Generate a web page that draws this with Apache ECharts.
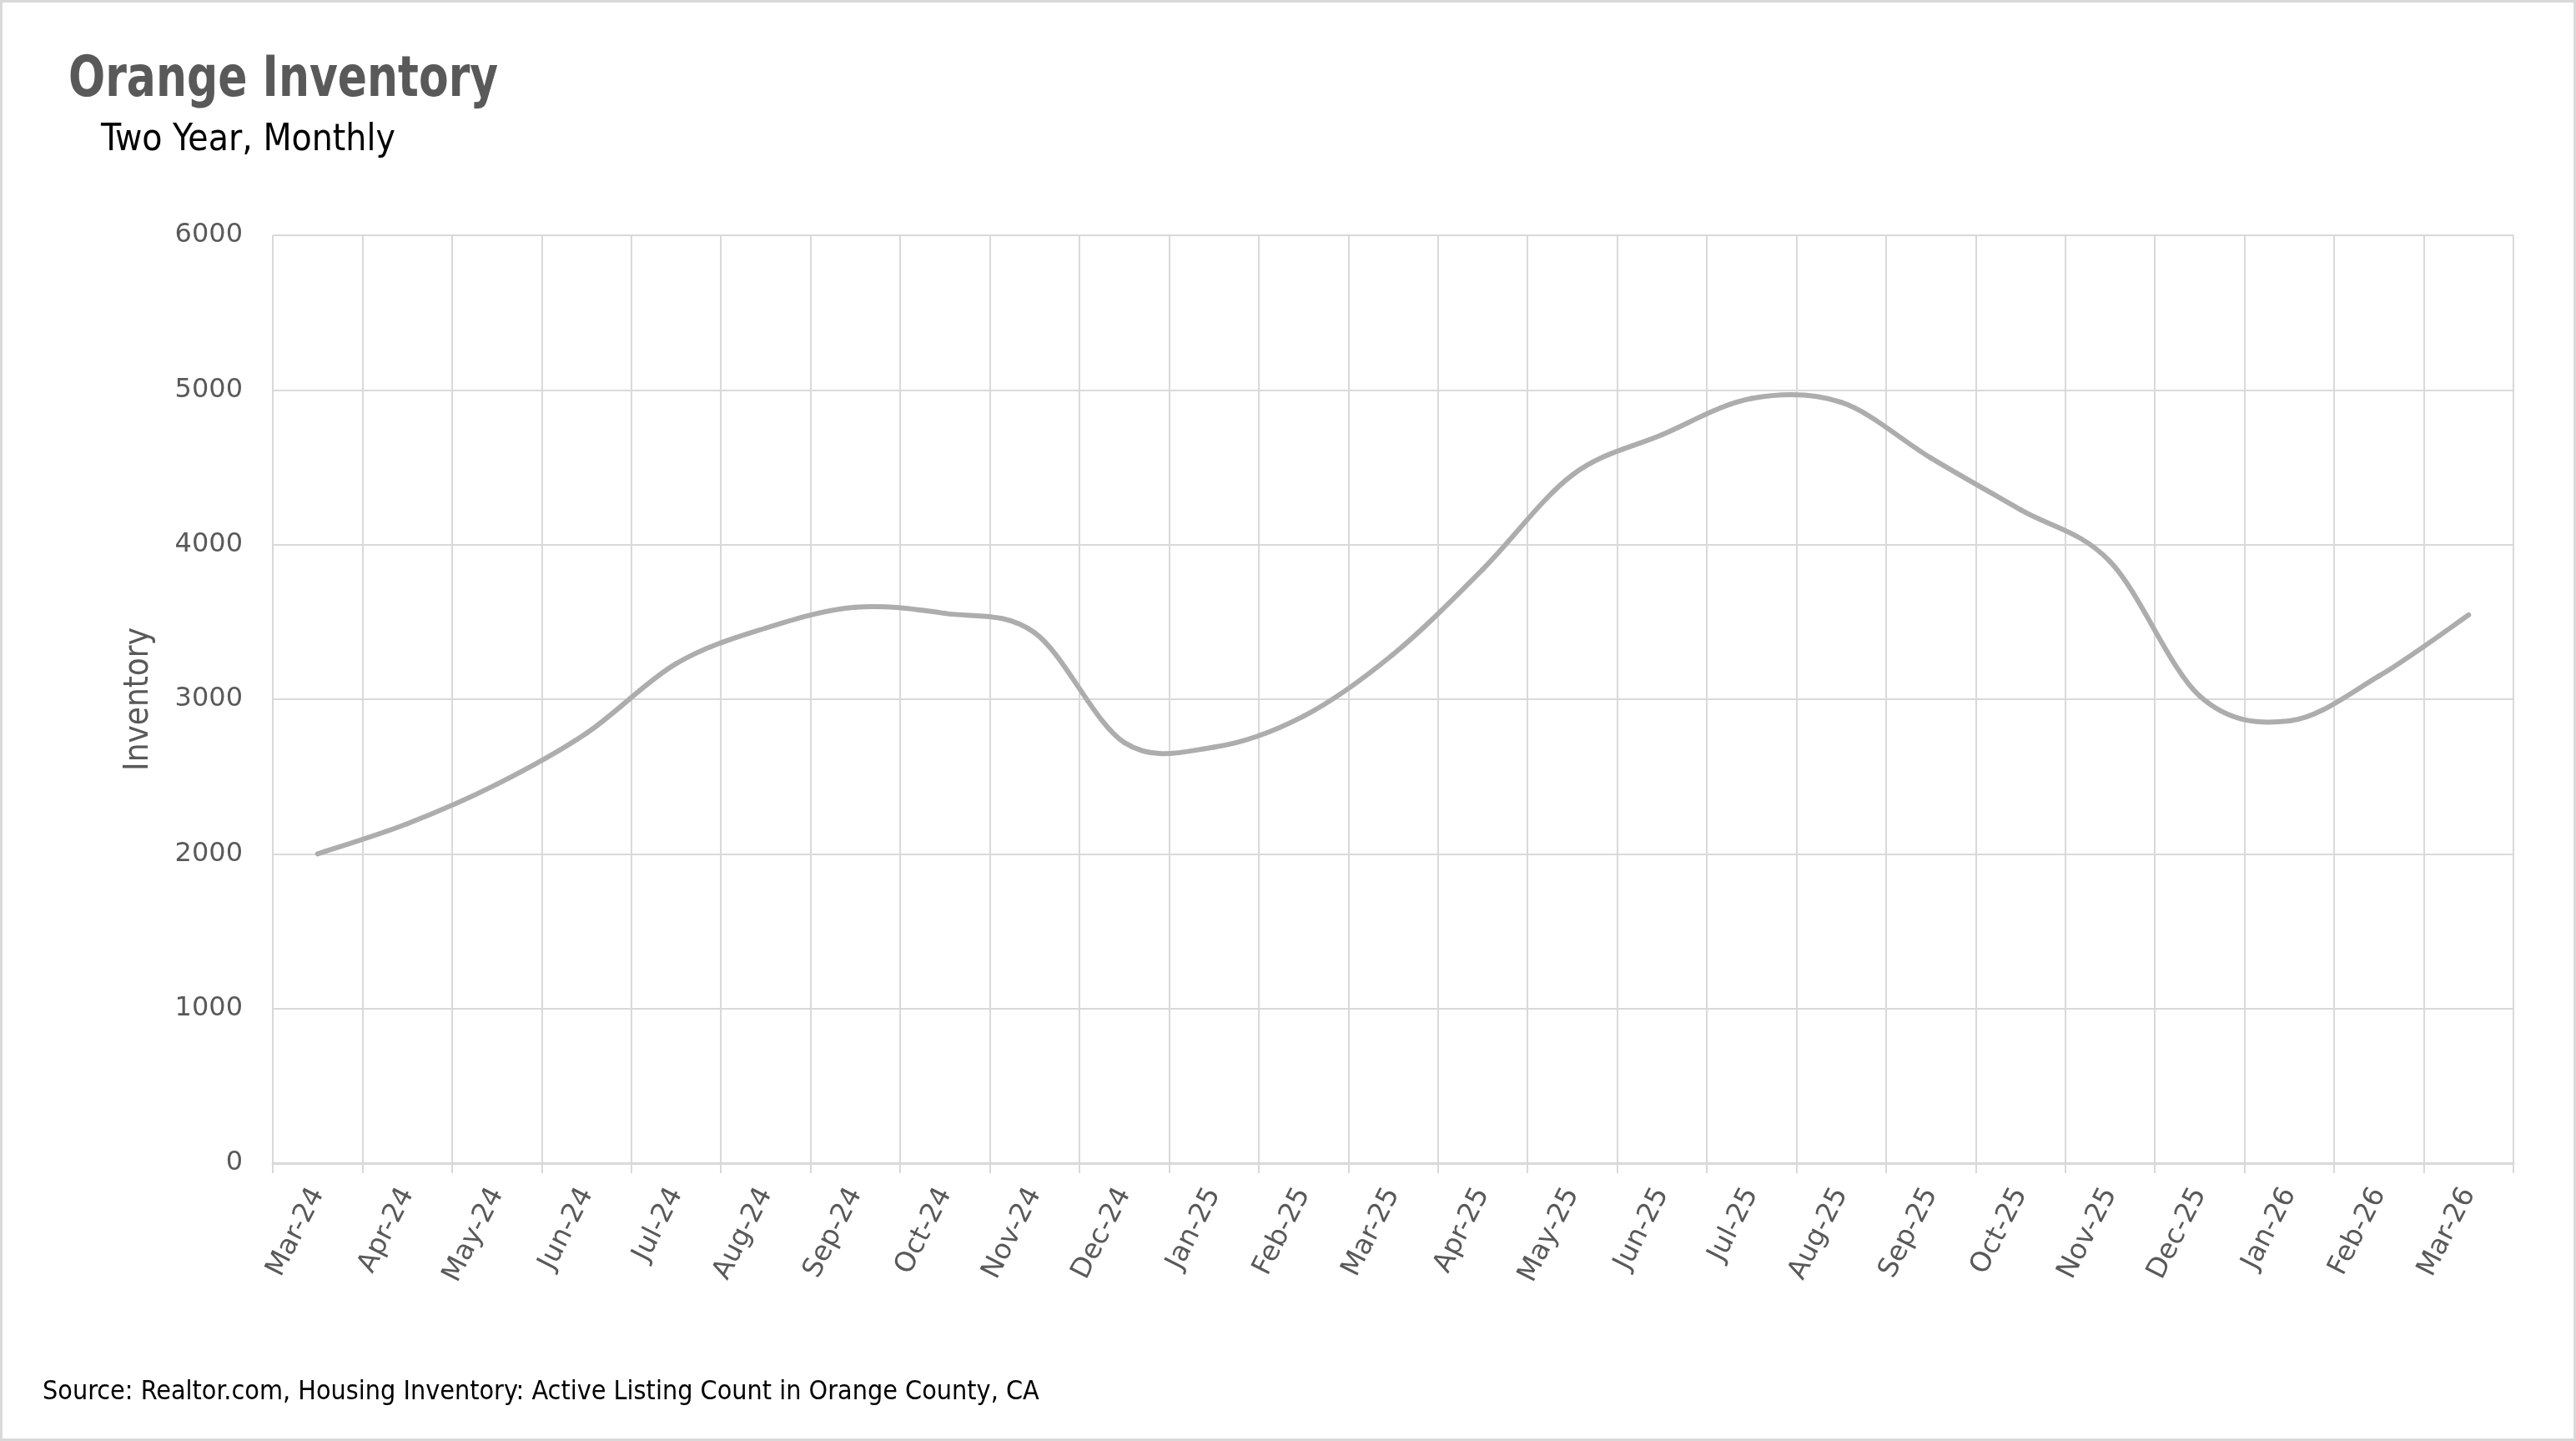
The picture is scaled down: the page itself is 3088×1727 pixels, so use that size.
<!DOCTYPE html>
<html>
<head>
<meta charset="utf-8">
<script src="https://cdn.jsdelivr.net/npm/echarts@6/dist/echarts.min.js"></script>
<style>
html,body{margin:0;padding:0;background:#fff;}
#chart{width:3088px;height:1727px;}
</style>
</head>
<body>
<div id="chart"></div>
<script>
const categories = ['Mar-24','Apr-24','May-24','Jun-24','Jul-24','Aug-24','Sep-24','Oct-24','Nov-24','Dec-24','Jan-25','Feb-25','Mar-25','Apr-25','May-25','Jun-25','Jul-25','Aug-25','Sep-25','Oct-25','Nov-25','Dec-25','Jan-26','Feb-26','Mar-26'];
const inventory = [2000,2195,2450,2780,3230,3460,3595,3555,3430,2720,2690,2890,3290,3840,4450,4710,4945,4920,4560,4225,3890,3020,2860,3150,3545];
const yTicks = {min:0, max:6000, interval:1000};
const titleText = 'Orange Inventory';
const subtitleText = 'Two Year, Monthly';
const yAxisName = 'Inventory';
const sourceText = 'Source: Realtor.com, Housing Inventory: Active Listing Count in Orange County, CA';

const narrow = "'Liberation Sans Narrow','DejaVu Sans Condensed','Roboto',sans-serif";
const wide = "'DejaVu Sans',sans-serif";

const chart = echarts.init(document.getElementById('chart'), null, {renderer:'canvas'});

// Smooth (Catmull-Rom style) curve through every data point, positioned with the axes' own scales
function renderCurve(params, api) {
  if (params.dataIndex !== 0) return null;
  const pts = inventory.map((v, i) => api.coord([i, v]));
  const n = pts.length;
  const children = [];
  for (let i = 0; i < n - 1; i++) {
    const p0 = pts[i - 1] || pts[i];
    const p1 = pts[i];
    const p2 = pts[i + 1];
    const p3 = pts[i + 2] || pts[i + 1];
    children.push({
      type: 'bezierCurve',
      shape: {
        x1: p1[0], y1: p1[1], x2: p2[0], y2: p2[1],
        cpx1: p1[0] + (p2[0] - p0[0]) / 6, cpy1: p1[1] + (p2[1] - p0[1]) / 6,
        cpx2: p2[0] - (p3[0] - p1[0]) / 6, cpy2: p2[1] - (p3[1] - p1[1]) / 6
      },
      style: {fill: null, stroke: '#adadad', lineWidth: 6, lineCap: 'round', lineJoin: 'round'}
    });
  }
  return {type: 'group', children: children};
}

chart.setOption({
  backgroundColor:'#fff',
  animation:false,
  title:[
    {text:subtitleText, left:116, top:142, textStyle:{fontFamily:narrow, fontWeight:'normal', fontSize:44, color:'#000'}},
    {text:sourceText, left:46, top:1648, textStyle:{fontFamily:narrow, fontWeight:'normal', fontSize:32, color:'#000'}}
  ],
  graphic:[
    {type:'rect', shape:{x:1.5,y:1.5,width:3085,height:1724}, style:{fill:'none', stroke:'#d9d9d9', lineWidth:3}, silent:true},
    {type:'text', x:82, y:97, scaleX:0.85, style:{text:titleText, fontFamily:narrow, fontWeight:'bold', fontSize:68, fill:'#595959', align:'left', verticalAlign:'middle'}}
  ],
  grid:{left:327, right:75, top:282, bottom:333, containLabel:false},
  xAxis:{
    type:'category', data:categories, boundaryGap:true,
    axisLine:{show:true, lineStyle:{color:'#d9d9d9', width:3}},
    axisTick:{show:true, length:12, alignWithLabel:false, lineStyle:{color:'#d9d9d9', width:2}},
    splitLine:{show:true, lineStyle:{color:'#d9d9d9', width:2}},
    axisLabel:{rotate:63, margin:32, color:'#595959', fontFamily:wide, fontSize:33, interval:0}
  },
  yAxis:{
    type:'value', min:yTicks.min, max:yTicks.max, interval:yTicks.interval,
    name:yAxisName, nameLocation:'middle', nameGap:140, nameRotate:90,
    nameTextStyle:{fontFamily:narrow, fontSize:40, color:'#595959'},
    axisLine:{show:false}, axisTick:{show:false},
    splitLine:{show:true, lineStyle:{color:'#d9d9d9', width:2}},
    axisLabel:{margin:36, color:'#595959', fontFamily:wide, fontSize:32, formatter:(v)=>String(v)}
  },
  series:[{
    type:'custom', coordinateSystem:'cartesian2d', clip:false,
    data: inventory.map((v, i) => [i, v]),
    encode:{x:0, y:1},
    renderItem: renderCurve
  }]
});
</script>
</body>
</html>
